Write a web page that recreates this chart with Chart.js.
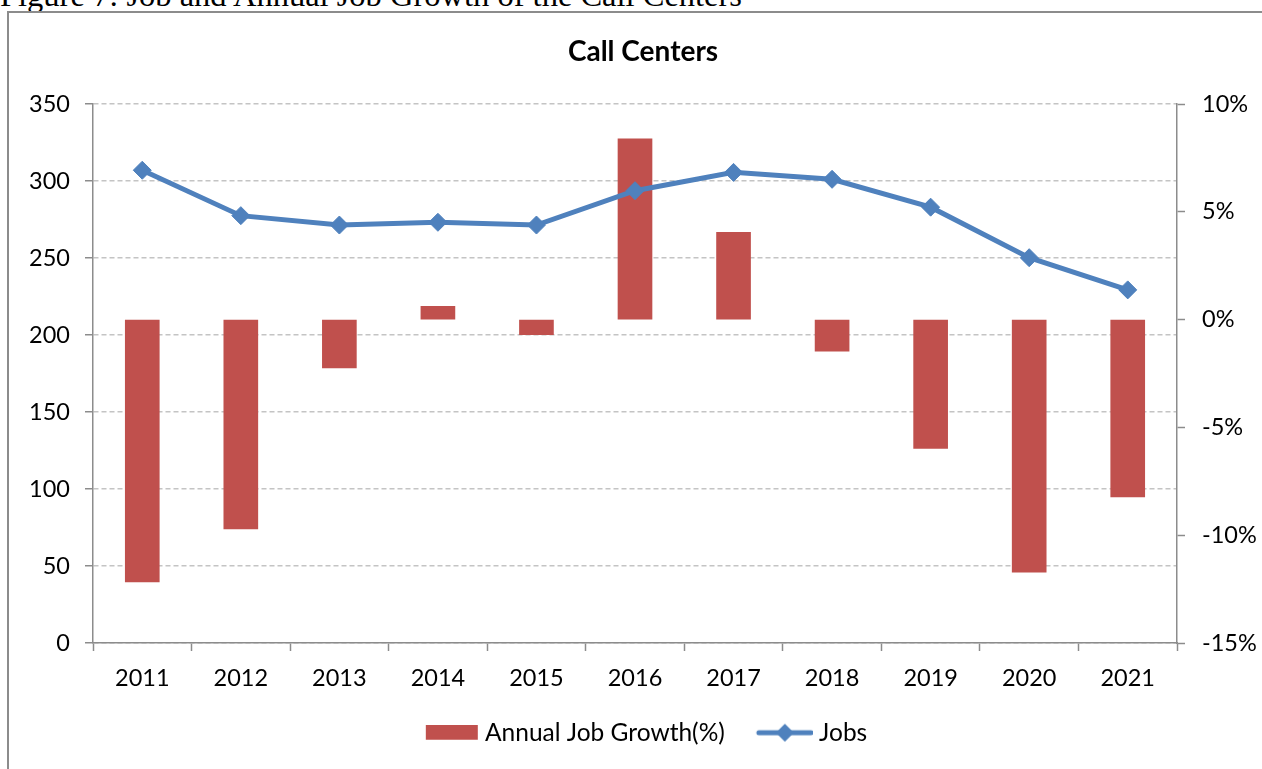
<!DOCTYPE html>
<html>
<head>
<meta charset="utf-8">
<script src="https://cdn.jsdelivr.net/npm/chart.js@4.4.1/dist/chart.umd.min.js"></script>
<style>
  html, body { margin: 0; padding: 0; background: #fff; overflow: hidden; }
  #caption {
    position: absolute; left: 0; top: -21px;
    font-family: "Liberation Serif", "Times New Roman", serif;
    font-size: 32.5px; line-height: 32px; white-space: nowrap; color: #000;
  }
  #frame {
    position: absolute; left: 7px; top: 11px; width: 1300px; height: 800px;
    border: 2px solid #8c8c8c;
  }
  #wrap { position: absolute; left: 0; top: 0; width: 1262px; height: 769px; }
</style>
</head>
<body>
<div id="caption">Figure 7: Job and Annual Job Growth of the Call Centers</div>
<div id="frame"></div>
<div id="wrap"><canvas id="chart"></canvas></div>
<script>
const years = ["2011", "2012", "2013", "2014", "2015", "2016", "2017", "2018", "2019", "2020", "2021"]
const jobs = [307, 277.5, 271.4, 273.2, 271.4, 293.7, 305.6, 301.1, 283, 250.2, 229.3]
const growth = [-12.17, -9.71, -2.24, 0.62, -0.7, 8.38, 4.05, -1.47, -5.98, -11.72, -8.22]

const FONT = "Lato, 'Open Sans', sans-serif"
const RED = "#C0504D"
const BLUE = "#4F81BD"
const AXIS = "#8c8c8c"

// legend swatches drawn as small canvases so the line item gets line + diamond
function barSwatch() {
  const c = document.createElement("canvas")
  c.width = 66; c.height = 16
  const g = c.getContext("2d")
  g.fillStyle = RED
  g.fillRect(13, 0, 52, 15)
  return c
}

function lineSwatch() {
  const c = document.createElement("canvas")
  c.width = 66; c.height = 20
  const g = c.getContext("2d")
  g.strokeStyle = BLUE
  g.lineWidth = 5
  g.lineCap = "round"
  g.beginPath()
  g.moveTo(12, 10); g.lineTo(64, 10)
  g.stroke()
  g.fillStyle = BLUE
  g.beginPath()
  g.moveTo(38, 1); g.lineTo(47, 10); g.lineTo(38, 19); g.lineTo(29, 10)
  g.closePath()
  g.fill()
  return c
}

const swatches = [barSwatch(), lineSwatch()]

new Chart(document.getElementById("chart"), {
  data: {
    labels: years,
    datasets: [
      {
        type: "line",
        label: "Jobs",
        data: jobs,
        yAxisID: "y",
        borderColor: BLUE,
        backgroundColor: BLUE,
        borderWidth: 5,
        pointStyle: "rectRot",
        pointRadius: 9,
        pointBorderWidth: 1,
        tension: 0,
        order: 1
      },
      {
        type: "bar",
        label: "Annual Job Growth(%)",
        data: growth,
        yAxisID: "y1",
        backgroundColor: RED,
        barThickness: 34,
        order: 2
      }
    ]
  },
  options: {
    responsive: true,
    maintainAspectRatio: false,
    animation: false,
    layout: { padding: { left: 24, right: 0, top: 0, bottom: 14 } },
    plugins: {
      title: {
        display: true,
        text: "Call Centers",
        color: "#000",
        font: { family: FONT, size: 28, weight: "bold", lineHeight: 1.2 },
        padding: { top: 35.5, bottom: 34.9 }
      },
      legend: {
        position: "bottom",
        labels: {
          color: "#000",
          font: { family: FONT, size: 24.5 },
          usePointStyle: true,
          pointStyleWidth: 54,
          padding: 28,
          generateLabels: chart => [
            { text: "Annual Job Growth(%)", pointStyle: swatches[0], datasetIndex: 1, fontColor: "#000", lineWidth: 0, strokeStyle: "transparent" },
            { text: "Jobs", pointStyle: swatches[1], datasetIndex: 0, fontColor: "#000", lineWidth: 0, strokeStyle: "transparent" }
          ]
        }
      },
      tooltip: { enabled: false }
    },
    scales: {
      x: {
        offset: true,
        grid: {
          offset: true,
          drawOnChartArea: false,
          drawTicks: true,
          tickLength: 8,
          tickColor: AXIS,
          tickWidth: 1.5
        },
        border: { color: AXIS, width: 1.5 },
        ticks: { color: "#000", font: { family: FONT, size: 23.5 }, padding: 13 },
        afterFit: s => { s.height = 769 - 14 - 643 - s.chart.legend.height }
      },
      y: {
        position: "left",
        min: 0,
        max: 350,
        ticks: { stepSize: 50, color: "#000", font: { family: FONT, size: 23.5 }, padding: 15 },
        grid: {
          color: "#c4c4c4",
          lineWidth: 1.5,
          tickLength: 8,
          tickColor: AXIS,
          tickWidth: 1.5,
          tickBorderDash: []
        },
        border: { color: AXIS, width: 1.5, dash: [5, 3] },
        afterFit: s => { s.width = 93 - 24 }
      },
      y1: {
        position: "right",
        min: -15,
        max: 10,
        ticks: {
          stepSize: 5,
          color: "#000",
          font: { family: FONT, size: 23.5 },
          padding: 17,
          callback: v => v + "%"
        },
        grid: {
          drawOnChartArea: false,
          tickLength: 8,
          tickColor: AXIS,
          tickWidth: 1.5
        },
        border: { color: AXIS, width: 1.5 },
        afterFit: s => { s.width = 1262 - 1177 }
      }
    }
  }
})
</script>
</body>
</html>
